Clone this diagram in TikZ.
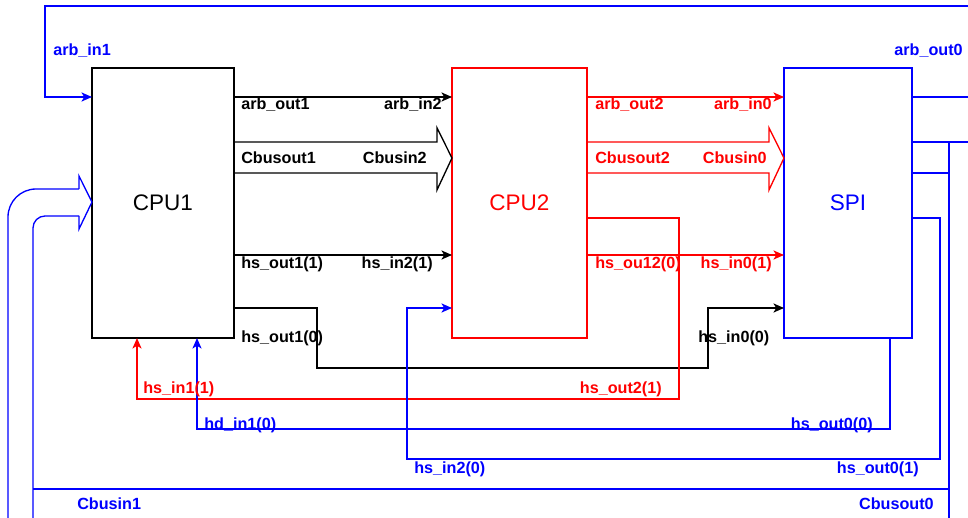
\documentclass[tikz,border=0pt]{standalone}
\usepackage{fontspec}
\setmainfont{Liberation Sans}
\usepackage{tikz}
\usetikzlibrary{positioning,arrows.meta,calc}

\begin{document}
\begin{tikzpicture}[x=0.025cm, y=-0.025cm, >={Stealth[length=7.5pt, width=6.5pt, inset=2pt]},
    wire/.style={line width=0.95pt},
    block/.style={draw, line width=0.95pt, inner sep=0pt, outer sep=0pt, minimum height=6.75cm, font=\fontsize{16}{19}\selectfont},
    pinlabel/.style={inner sep=0pt, font=\fontsize{11.5}{13}\selectfont\bfseries}]
    \useasboundingbox (0,0) rectangle (968,518);

    % Blocks
    \node[block, minimum width=3.55cm] (cpu1) at (163,203) {CPU1};
    \node[block, minimum width=3.375cm, draw=red, text=red] (cpu2) at (519.5,203) {CPU2};
    \node[block, minimum width=3.2cm, draw=blue, text=blue] (spi) at (848,203) {SPI};

    % Rows and columns of the wiring
    \coordinate (yarb) at (0,97);
    \coordinate (ybt) at (0,142);
    \coordinate (ybus) at (0,158);
    \coordinate (ybb) at (0,173);
    \coordinate (ycbus) at (0,202);
    \coordinate (yhs2) at (0,218);
    \coordinate (yhs1) at (0,255);
    \coordinate (yhs0) at (0,308);
    \coordinate (xred) at (137,0);
    \coordinate (xblue) at (197,0);
    \coordinate (xspi) at (890,0);
    \coordinate (ringR) at (968,6);

    % Arbitration ring
    \draw[wire, ->] (cpu1.east |- yarb) -- (cpu2.west |- yarb);
    \draw[wire, red, ->] (cpu2.east |- yarb) -- (spi.west |- yarb);
    \draw[wire, blue] (spi.east |- yarb) -- (968,97);
    \draw[wire, blue, ->] (ringR) -- (45,6) -- (45,97) -- (cpu1.west |- yarb);

    % Cbus arrows
    \draw[wire] (cpu1.east |- ybt) -- ++(203,0) -- ++(0,-14) -- (cpu2.west |- ybus) -- ++(-15,32) -- ++(0,-17) -- (cpu1.east |- ybb);
    \draw[wire, red] (cpu2.east |- ybt) -- ++(182,0) -- ++(0,-14) -- (spi.west |- ybus) -- ++(-15,32) -- ++(0,-17) -- (cpu2.east |- ybb);

    % Cbus back from SPI to CPU1
    \draw[wire, blue] (spi.east |- ybt) -- (968,142);
    \draw[wire, blue] (spi.east |- ybb) -- (949,173);
    \draw[wire, blue] (949,142) -- (949,518);
    \draw[wire, blue] (33,489) -- (949,489);
    \draw[wire, blue, rounded corners=0.3cm] (33,518) -- (33,216) -- (79,216);
    \draw[wire, blue] (79,216) -- ++(0,13) -- (cpu1.west |- ycbus) -- (79,176) -- (79,189);
    \draw[wire, blue, rounded corners=0.7cm] (79,189) -- (8,189) -- (8,518);

    % Handshake lines
    \draw[wire, ->] (cpu1.east |- yhs1) -- (cpu2.west |- yhs1);
    \draw[wire, red, ->] (cpu2.east |- yhs1) -- (spi.west |- yhs1);
    \draw[wire, ->] (cpu1.east |- yhs0) -| (317,368) -| (708,308) -- (spi.west |- yhs0);
    \draw[wire, red, ->] (cpu2.east |- yhs2) -| (679,399) -| (cpu1.south -| xred);
    \draw[wire, blue, ->] (spi.south -| xspi) |- (197,429) -- (cpu1.south -| xblue);
    \draw[wire, blue, ->] (spi.east |- yhs2) -| (940,459) -| (407,308) -- (cpu2.west |- yhs0);

    % Pin labels, CPU1 side
    \node[pinlabel, blue, anchor=base west] (l-arbin1) at (53,56) {arb\_in1};
    \node[pinlabel, anchor=base west] (l-arbout1) at (241,110) {arb\_out1};
    \node[pinlabel, anchor=base east] (l-arbin2) at (442,110) {arb\_in2};
    \node[pinlabel, anchor=base west] (l-cbout1) at (241,164) {Cbusout1};
    \node[pinlabel, anchor=base east] (l-cbin2) at (427,164) {Cbusin2};
    \node[pinlabel, anchor=base west] (l-hsout11) at (241,269) {hs\_out1(1)};
    \node[pinlabel, anchor=base east] (l-hsin21) at (433,269) {hs\_in2(1)};
    \node[pinlabel, anchor=base west] (l-hsout10) at (241,342) {hs\_out1(0)};
    \node[pinlabel, red, anchor=base west] (l-hsin11) at (143,393) {hs\_in1(1)};
    \node[pinlabel, blue, anchor=base west] (l-hdin10) at (204,429) {hd\_in1(0)};
    \node[pinlabel, blue, anchor=base west] (l-hsin20) at (414,473) {hs\_in2(0)};
    \node[pinlabel, blue, anchor=base west] (l-cbin1) at (77,509) {Cbusin1};

    % Pin labels, CPU2 side
    \node[pinlabel, red, anchor=base west] (l-arbout2) at (595,110) {arb\_out2};
    \node[pinlabel, red, anchor=base east] (l-arbin0) at (772,110) {arb\_in0};
    \node[pinlabel, red, anchor=base west] (l-cbout2) at (595,164) {Cbusout2};
    \node[pinlabel, red, anchor=base east] (l-cbin0) at (767,164) {Cbusin0};
    \node[pinlabel, red, anchor=base west] (l-hsout20) at (595,269) {hs\_ou12(0)};
    \node[pinlabel, red, anchor=base east] (l-hsin01) at (772,269) {hs\_in0(1)};
    \node[pinlabel, red, anchor=base east] (l-hsout21) at (662,393) {hs\_out2(1)};
    \node[pinlabel, anchor=base west] (l-hsin00) at (698,342) {hs\_in0(0)};

    % Pin labels, SPI side
    \node[pinlabel, blue, anchor=base east] (l-arbout0) at (963,56) {arb\_out0};
    \node[pinlabel, blue, anchor=base east] (l-hsout00) at (873,429) {hs\_out0(0)};
    \node[pinlabel, blue, anchor=base east] (l-hsout01) at (919,473) {hs\_out0(1)};
    \node[pinlabel, blue, anchor=base east] (l-cbout0) at (934,509) {Cbusout0};
\end{tikzpicture}
\end{document}
